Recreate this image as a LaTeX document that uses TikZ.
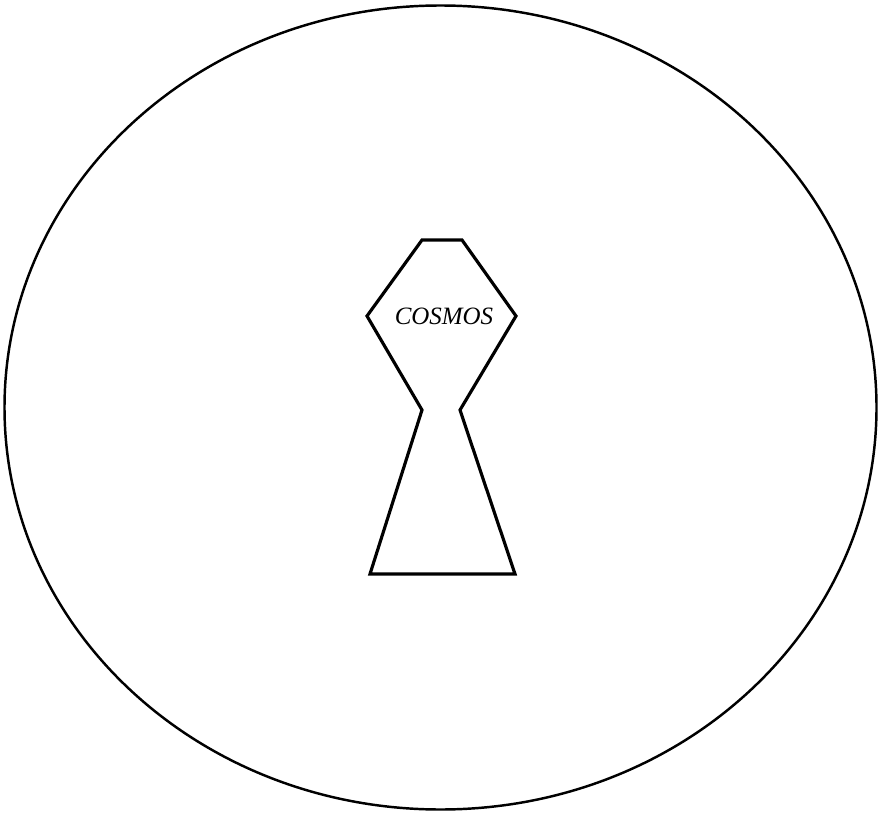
\documentclass[tikz,border=0pt]{standalone}
\usepackage{fontspec}
\setmainfont{Liberation Serif}
\usepackage{tikz}
\definecolor{INK}{HTML}{000000}

\begin{document}
\begin{tikzpicture}[x=0.02cm,y=-0.02cm]
\tikzset{rim/.style={line width=1.4pt,INK},keyhole/.style={line width=1.8pt,INK,line join=miter},
 lbl/.style={font=\fontsize{14.2}{17}\selectfont\itshape,inner sep=0pt,INK}}
\useasboundingbox (0,0) rectangle (882,814);
\draw[rim] (440.5,407.5) ellipse [x radius=436,y radius=402];
\draw[keyhole] (422,240)--(462,240)--(516,316)--(460,410)--(515,574)--(370,574)--(422,410)--(367,316)--cycle;
\node[lbl] (cosmos) at (444,316) {COSMOS};
\end{tikzpicture}
\end{document}
